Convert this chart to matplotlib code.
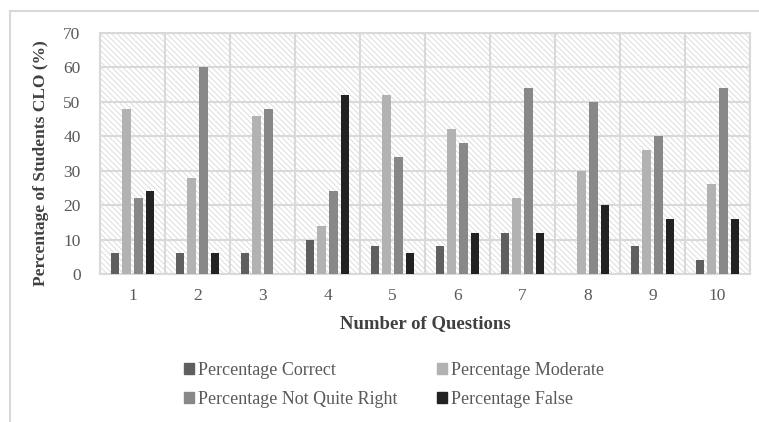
import numpy as np
import matplotlib
matplotlib.use("Agg")
import matplotlib.pyplot as plt
from matplotlib.patches import Rectangle, Patch
from matplotlib.lines import Line2D

questions = ["1", "2", "3", "4", "5", "6", "7", "8", "9", "10"]
correct = [6, 6, 6, 10, 8, 8, 12, 0, 8, 4]
moderate = [48, 28, 46, 14, 52, 42, 22, 30, 36, 26]
not_quite = [22, 60, 48, 24, 34, 38, 54, 50, 40, 54]
false_ = [24, 6, 0, 52, 6, 12, 12, 20, 16, 16]

series = [
    ("Percentage Correct", correct, "#5f5f5f"),
    ("Percentage Moderate", moderate, "#b2b2b2"),
    ("Percentage Not Quite Right", not_quite, "#888888"),
    ("Percentage False", false_, "#222222"),
]

plt.rcParams["font.family"] = ["Liberation Serif", "DejaVu Serif"]
plt.rcParams["hatch.linewidth"] = 0.6

fig = plt.figure(figsize=(7.59, 4.22), dpi=100)
ax = fig.add_axes([100 / 759, 1 - 274 / 422, 650 / 759, 241 / 422])

x = np.arange(len(questions))
step = 0.18
width = 0.13
# hatched plot background
ax.add_patch(Rectangle((-0.5, 0), len(questions), 70, facecolor="white",
                       edgecolor="#d8d8d8", linewidth=0,
                       hatch="\\\\\\\\\\\\", zorder=0))
for i, (name, vals, col) in enumerate(series):
    ax.bar(x + (i - 1.5) * step, vals, width, color=col, label=name, zorder=3)

ax.set_xlim(-0.5, len(questions) - 0.5)
ax.set_ylim(0, 70)
ax.set_yticks(range(0, 71, 10))
ax.set_xticks(x)
ax.set_xticklabels(questions)
ax.set_xticks(np.arange(-0.5, len(questions), 1), minor=True)
ax.grid(True, which="major", axis="y", color="#d9d9d9", linewidth=1.5, zorder=1)
ax.grid(True, which="minor", axis="x", color="#d9d9d9", linewidth=1.5, zorder=1)
ax.tick_params(which="both", length=0)
ax.tick_params(labelsize=12.5, labelcolor="#595959")
ax.tick_params(axis="x", pad=10)
ax.tick_params(axis="y", pad=14)
for s in ax.spines.values():
    s.set_color("#d9d9d9")
    s.set_linewidth(1.5)

ax.set_ylabel("Percentage of Students CLO (%)", fontsize=12.5, fontweight="bold",
              color="#404040")
ax.yaxis.set_label_coords(-0.078, 0.46)
ax.set_xlabel("Number of Questions", fontsize=13.5, fontweight="bold",
              color="#404040", labelpad=8)

handles = [Patch(color=c) for _, _, c in series]
labels = [n for n, _, _ in series]
order = [0, 2, 1, 3]
fig.legend([handles[i] for i in order], [labels[i] for i in order],
           ncol=2, frameon=False, loc="center left",
           bbox_to_anchor=(168 / 759, 1 - 385 / 422),
           fontsize=13, labelcolor="#595959", handlelength=0.55,
           handleheight=0.55, handletextpad=0.2, columnspacing=2.2,
           labelspacing=0.7)

fig.add_artist(Line2D([10 / 759, 1], [1 - 11 / 422, 1 - 11 / 422],
                      color="#d9d9d9", linewidth=1.5))
fig.add_artist(Line2D([10 / 759, 10 / 759], [0, 1 - 11 / 422],
                      color="#d9d9d9", linewidth=1.5))

fig.savefig("out.png", dpi=100)
